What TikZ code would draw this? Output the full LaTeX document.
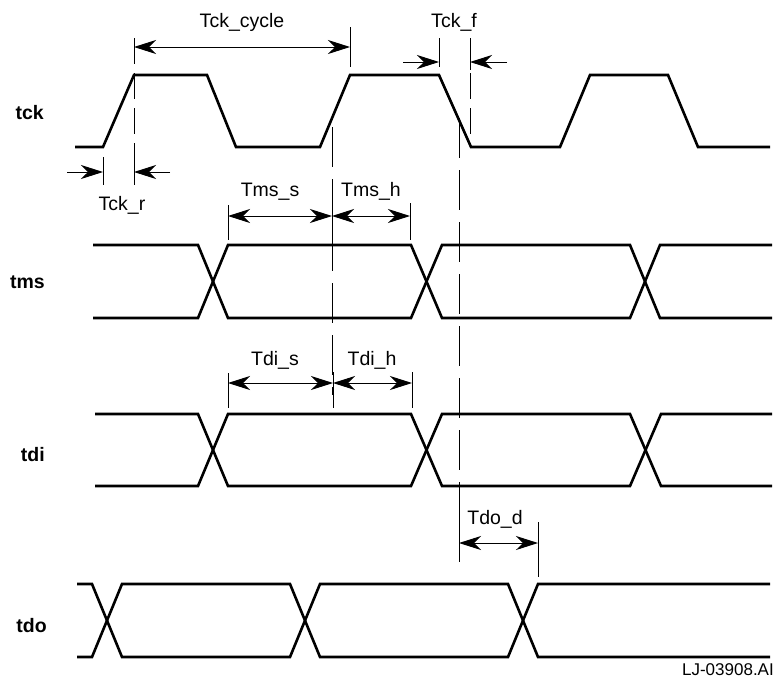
\documentclass[tikz,border=0pt]{standalone}
\usepackage{fontspec}
\setmainfont{Liberation Sans}
\usetikzlibrary{arrows.meta}
\begin{document}
\begin{tikzpicture}[x=1pt,y=-1pt,
  sig/.style={line width=2.6pt, line join=miter, line cap=butt},
  dim/.style={line width=0.9pt},
  tickln/.style={line width=0.9pt},
  guide/.style={line width=1pt, dash pattern=on 40pt off 12pt},
  shortguide/.style={line width=1pt, dash pattern=on 26pt off 9pt},
  tipA/.tip={Stealth[length=22pt,width=14pt,inset=7pt]},
  arr/.style={dim, -tipA},
  darr/.style={dim, tipA-tipA},
  lbl/.style={font=\fontsize{19.5}{22}\selectfont, anchor=base, inner sep=0pt},
  sname/.style={font=\fontsize{19.5}{22}\selectfont\bfseries, anchor=base east, inner sep=0pt}]
\useasboundingbox (0,0) rectangle (776,681);

% ---------- signals ----------
\draw[sig] (75,147)--(103,147)--(134,75)--(207,75)--(236,147)--(320,147)--(350,75)--(439,75)--(471,147)--(560,147)--(590,75)--(668,75)--(698,147)--(770,147);

\draw[sig] (93,245)--(198,245)--(228,318)--(411,318)--(442,245)--(630,245)--(660,318)--(772,318);
\draw[sig] (93,318)--(198,318)--(228,245)--(411,245)--(442,318)--(630,318)--(660,245)--(772,245);

\draw[sig] (95,414)--(198,414)--(228,486)--(411,486)--(442,414)--(630,414)--(661,486)--(772,486);
\draw[sig] (95,486)--(198,486)--(228,414)--(411,414)--(442,486)--(630,486)--(661,414)--(772,414);

\draw[sig] (77,584)--(92,584)--(122,657)--(290,657)--(320,584)--(508,584)--(538,657)--(770,657);
\draw[sig] (77,657)--(92,657)--(122,584)--(290,584)--(320,657)--(508,657)--(538,584)--(770,584);

% ---------- guide lines ----------
\draw[shortguide] (134,38)--(134,185);
\draw[guide] (332,127)--(332,395);
\draw[guide] (459,118)--(459,562);
\draw[shortguide] (470,38)--(470,147);

% ---------- solid ticks ----------
\draw[tickln] (350,27)--(350,67);
\draw[tickln] (439,38)--(439,67);
\draw[tickln] (134,38)--(134,58);
\draw[tickln] (470,38)--(470,70);
\draw[tickln] (103,157)--(103,185);
\draw[tickln] (134,160)--(134,185);
\draw[tickln] (228,205)--(228,240);
\draw[tickln] (332,203)--(332,240);
\draw[tickln] (410,203)--(410,240);
\draw[tickln] (228,373)--(228,408);
\draw[tickln] (333,372)--(333,408);
\draw[tickln] (412,372)--(412,408);
\draw[tickln] (459,520)--(459,562);
\draw[tickln] (538,522)--(538,577);

% ---------- dimension end points ----------
\coordinate (cyA) at (134,47);  \coordinate (cyB) at (350,47);
\coordinate (crT1) at (67,172); \coordinate (crA) at (103,172);
\coordinate (crT2) at (170,172); \coordinate (crB) at (134,172);
\coordinate (cfT1) at (403,62); \coordinate (cfA) at (439,62);
\coordinate (cfT2) at (507,62); \coordinate (cfB) at (470,62);
\coordinate (msA) at (228,216); \coordinate (msB) at (332,216); \coordinate (msC) at (410,216);
\coordinate (dsA) at (228,383); \coordinate (dsB) at (333,383); \coordinate (dsC) at (412,383);
\coordinate (ddA) at (459,543); \coordinate (ddB) at (538,543);

% ---------- dimension arrows ----------
\draw[darr] (cyA)--(cyB);
\draw[arr] (crT1)--(crA);
\draw[arr] (crT2)--(crB);
\draw[arr] (cfT1)--(cfA);
\draw[arr] (cfT2)--(cfB);
\draw[darr] (msA)--(msB);
\draw[darr] (msB)--(msC);
\draw[darr] (dsA)--(dsB);
\draw[darr] (dsB)--(dsC);
\draw[darr] (ddA)--(ddB);

% ---------- labels ----------
\node[lbl] (tckcycle) at (242,27) {Tck\_cycle};
\node[lbl] (tckf) at (454,27) {Tck\_f};
\node[lbl] (tckr) at (122,210) {Tck\_r};
\node[lbl] (tmss) at (270,196) {Tms\_s};
\node[lbl] (tmsh) at (371,196) {Tms\_h};
\node[lbl] (tdis) at (275,365) {Tdi\_s};
\node[lbl] (tdih) at (372,365) {Tdi\_h};
\node[lbl] (tdod) at (495,524) {Tdo\_d};
\node[lbl, anchor=base east, font=\fontsize{17}{20}\selectfont] (fig) at (774,675) {LJ-03908.AI};

\node[sname] (ntck) at (44,119) {tck};
\node[sname] (ntms) at (45,288) {tms};
\node[sname] (ntdi) at (45,461) {tdi};
\node[sname] (ntdo) at (47,632) {tdo};
\end{tikzpicture}
\end{document}
